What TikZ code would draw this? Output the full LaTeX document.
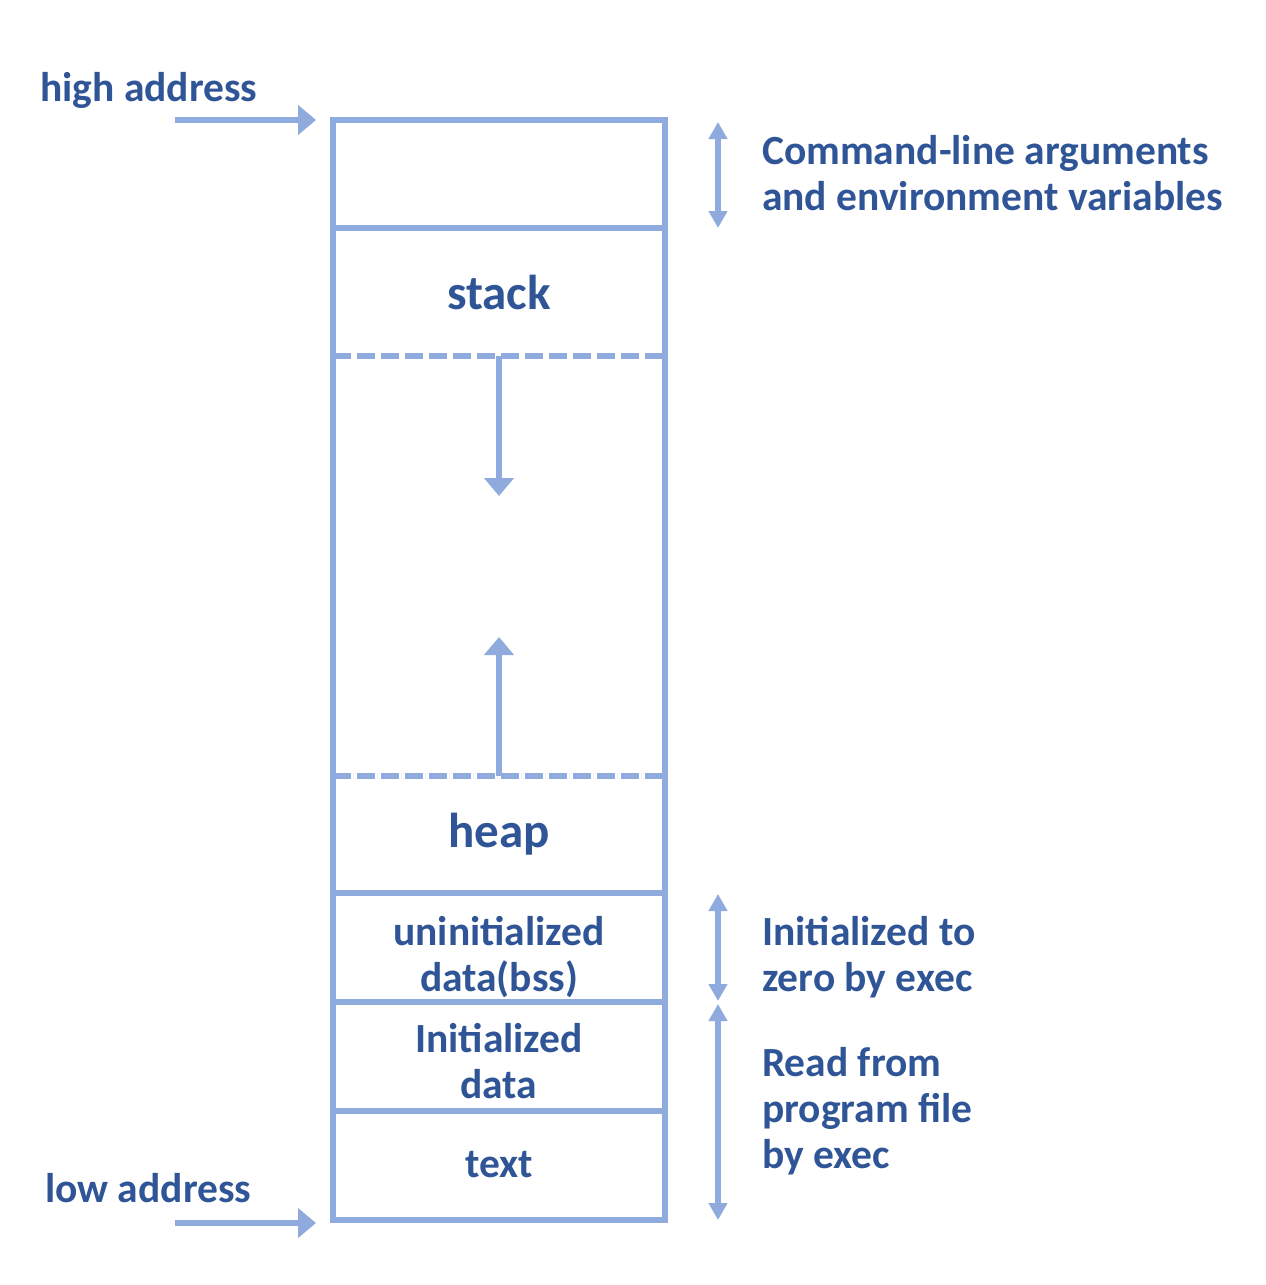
\documentclass[tikz,border=0pt]{standalone}
\usepackage{fontspec}
\setmainfont{Carlito}
\usetikzlibrary{arrows.meta}
\definecolor{lineblue}{HTML}{8FAADC}
\definecolor{textblue}{HTML}{2F5597}
\begin{document}
\begin{tikzpicture}[x=1pt,y=-1pt,
  ln/.style={draw=lineblue, line width=5.5pt},
  dln/.style={draw=lineblue, line width=5.5pt, dash pattern=on 18pt off 6pt},
  bigarrow/.style={draw=lineblue, line width=5.5pt, -{Triangle[length=18pt,width=29pt]}},
  dblarrow/.style={draw=lineblue, line width=5.5pt, {Triangle[length=17pt,width=18pt]}-{Triangle[length=17pt,width=18pt]}},
  lbl/.style={text=textblue, font=\fontsize{41.5}{46}\selectfont\bfseries, inner sep=0pt},
  biglbl/.style={text=textblue, font=\fontsize{49}{54}\selectfont\bfseries, inner sep=0pt}]
\useasboundingbox (0,0) rectangle (1266,1285);
% box corners and separators
\coordinate (tl) at (333,120);
\coordinate (br) at (665,1220);
\draw[ln] (tl) rectangle (br);
\coordinate (s1l) at (333,228);  \coordinate (s1r) at (665,228);
\coordinate (s2l) at (333,356);  \coordinate (s2r) at (665,356);
\coordinate (s3l) at (333,776);  \coordinate (s3r) at (665,776);
\coordinate (s4l) at (333,893);  \coordinate (s4r) at (665,893);
\coordinate (s5l) at (333,1002); \coordinate (s5r) at (665,1002);
\coordinate (s6l) at (333,1111); \coordinate (s6r) at (665,1111);
\draw[ln] (s1l) -- (s1r);
\draw[dln] (s2l) -- (s2r);
\draw[dln] (s3l) -- (s3r);
\draw[ln] (s4l) -- (s4r);
\draw[ln] (s5l) -- (s5r);
\draw[ln] (s6l) -- (s6r);
% growth arrows
\coordinate (dstart) at (499,356);
\coordinate (dend) at (499,496);
\coordinate (ustart) at (499,776);
\coordinate (uend) at (499,637);
\draw[bigarrow] (dstart) -- (dend);
\draw[bigarrow] (ustart) -- (uend);
% address arrows
\coordinate (ha0) at (175,120);
\coordinate (ha1) at (316,120);
\coordinate (la0) at (175,1223);
\coordinate (la1) at (316,1223);
\draw[bigarrow] (ha0) -- (ha1);
\draw[bigarrow] (la0) -- (la1);
% right double arrows
\coordinate (r1a) at (718,122); \coordinate (r1b) at (718,228);
\coordinate (r2a) at (718,894); \coordinate (r2b) at (718,1001);
\coordinate (r3a) at (718,1004); \coordinate (r3b) at (718,1220);
\draw[dblarrow] (r1a) -- (r1b);
\draw[dblarrow] (r2a) -- (r2b);
\draw[dblarrow] (r3a) -- (r3b);
% labels
\node[lbl, anchor=base west] (high) at (40,101) {high address};
\node[lbl, anchor=base west] (low) at (45,1202) {low address};
\node[biglbl, anchor=base] (stack) at (499,309) {stack};
\node[biglbl, anchor=base] (heap) at (499,847) {heap};
\node[lbl, anchor=base] (bss1) at (499,945) {uninitialized};
\node[lbl, anchor=base] (bss2) at (499,991) {data(bss)};
\node[lbl, anchor=base] (init1) at (499,1052) {Initialized};
\node[lbl, anchor=base] (init2) at (499,1098) {data};
\node[lbl, anchor=base] (txt) at (499,1177) {text};
\node[lbl, anchor=base west] (cl1) at (762,164) {Command-line arguments};
\node[lbl, anchor=base west] (cl2) at (762,210) {and environment variables};
\node[lbl, anchor=base west] (z1) at (762,945) {Initialized to};
\node[lbl, anchor=base west] (z2) at (762,991) {zero by exec};
\node[lbl, anchor=base west] (rd1) at (762,1076) {Read from};
\node[lbl, anchor=base west] (rd2) at (762,1122) {program file};
\node[lbl, anchor=base west] (rd3) at (762,1168) {by exec};
\end{tikzpicture}
\end{document}
